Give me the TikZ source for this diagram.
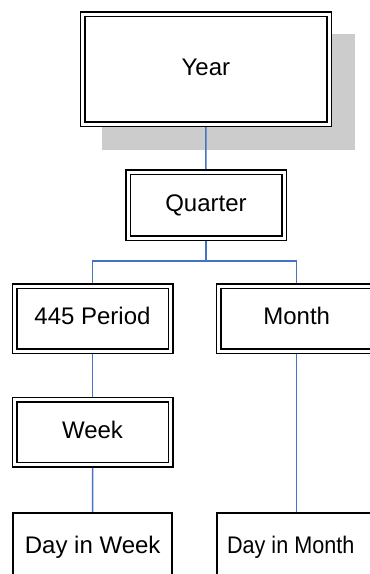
\documentclass[tikz,border=0pt]{standalone}
\usepackage{fontspec}
\setmainfont{Liberation Sans}
\usetikzlibrary{backgrounds}
\definecolor{connc}{HTML}{4472C4}
\definecolor{shadec}{HTML}{CCCCCC}
\begin{document}
\begin{tikzpicture}[x=1pt,y=-1pt,
  box/.style={rectangle, draw=black, fill=white, inner sep=0pt,
    text height=17pt, text depth=5pt, font=\fontsize{24}{28}\selectfont},
  dbox/.style={box, line width=1.5pt, double=white, double distance=3pt},
  sbox/.style={box, line width=1.5pt},
  link/.style={draw=connc, line width=1.5pt}]
\useasboundingbox (0,0) rectangle (370,574);
\clip (0,0) rectangle (370,574);

\node[dbox, minimum width=246.3pt, minimum height=110.3pt] (year) at (205.9,69.2) {Year};
\node[dbox, minimum width=156pt, minimum height=66pt] (quarter) at (206,205) {Quarter};
\node[dbox, minimum width=156pt, minimum height=65pt] (period) at (92.5,318.5) {445 Period};
\node[dbox, minimum width=156pt, minimum height=65pt] (month) at (296.7,318.5) {Month};
\node[dbox, minimum width=156pt, minimum height=65pt] (week) at (92.5,432) {Week};
\node[sbox, minimum width=159pt, minimum height=70pt] (dweek) at (92.7,547.8) {Day in Week};
\node[sbox, minimum width=159pt, minimum height=70pt] (dmonth) at (296.7,547.8) {\scalebox{0.9}[1]{Day in Month}\hspace*{12pt}};

\coordinate (split) at (206,261);

\begin{scope}[on background layer]
  \fill[shadec] ([shift={(20.3,20.3)}]year.north west) rectangle ([shift={(24.8,24.8)}]year.south east);
  \draw[link] (year.south) -- (quarter.north);
  \draw[link] (quarter.south) -- (split);
  \draw[link] (split) -| (period.north);
  \draw[link] (split) -| (month.north);
  \draw[link] (period.south) -- (week.north);
  \draw[link] (week.south) -- (dweek.north);
  \draw[link] (month.south) -- (dmonth.north);
\end{scope}
\end{tikzpicture}
\end{document}
